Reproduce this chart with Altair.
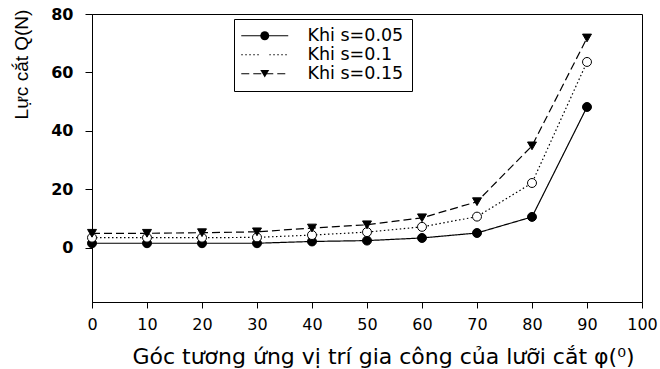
import altair as alt
import pandas as pd

angles = [0, 10, 20, 30, 40, 50, 60, 70, 80, 90]
series_names = ["Khi s=0.05", "Khi s=0.1", "Khi s=0.15"]
q_005 = [1.6, 1.6, 1.6, 1.6, 2.2, 2.5, 3.4, 5.1, 10.6, 48.2]
q_010 = [3.5, 3.5, 3.5, 3.6, 4.4, 5.4, 7.2, 10.7, 22.2, 63.6]
q_015 = [5.0, 5.0, 5.2, 5.5, 6.8, 7.9, 10.3, 15.8, 34.9, 71.8]
x_ticks = [0, 10, 20, 30, 40, 50, 60, 70, 80, 90, 100]
y_ticks = [0, 20, 40, 60, 80]

rows = []
for name, vals in zip(series_names, [q_005, q_010, q_015]):
    for a, v in zip(angles, vals):
        rows.append({"angle": a, "Q": v, "series": name, "marker": name})
df = pd.DataFrame(rows)

dash_scale = alt.Scale(domain=series_names, range=[[1, 0], [1.5, 2.5], [8, 4]])
# marker scales use the data-derived (sorted) domain so their legend stays separate
shape_scale = alt.Scale(range=["circle", "circle", "triangle-down"])
fill_scale = alt.Scale(range=["black", "white", "black"])

x_enc = alt.X(
    "angle:Q",
    scale=alt.Scale(domain=[0, 100], nice=False, zero=False),
    axis=alt.Axis(
        values=x_ticks, title="Góc tương ứng vị trí gia công của lưỡi cắt  φ(⁰)",
        titleFont="DejaVu Sans", titleFontSize=22, titleFontWeight="normal",
        titleColor="black", titleX=291, titleY=61, titleBaseline="alphabetic",
        titleAlign="center",
        labelFont="DejaVu Sans", labelFontSize=16, labelColor="black",
        labelFlush=False, tickSize=6, labelPadding=8, grid=False,
    ),
)
y_enc = alt.Y(
    "Q:Q",
    scale=alt.Scale(domain=[-18.5, 80], nice=False, zero=False),
    axis=alt.Axis(
        values=y_ticks, title="Lực cắt Q(N)",
        titleFont="Liberation Sans", titleFontSize=19, titleFontWeight="normal",
        titleColor="black", titleAngle=270, titleX=-65, titleY=50,
        titleAlign="center", titleBaseline="alphabetic",
        labelFont="DejaVu Sans", labelFontSize=16, labelFontWeight="bold",
        labelColor="black", labelFlush=False, tickSize=7, labelPadding=12, grid=False,
    ),
)

common = dict(
    title=None, orient="none", legendX=142, legendY=5, symbolSize=80,
    symbolOffset=14, labelOffset=34, labelFont="DejaVu Sans", labelFontSize=17.5,
    rowPadding=0, padding=8, labelLimit=300,
)

line_legend = alt.Legend(
    symbolType="M-5.25,0H5.25", symbolStrokeWidth=1.2, symbolStrokeColor="black",
    labelColor="black", strokeColor="black", fillColor="white", zindex=1,
    labelExpr="datum.label + ' '",
    **common,
)
point_legend = alt.Legend(
    symbolStrokeColor="black", symbolStrokeWidth=1, labelOpacity=0,
    labelExpr="' '", zindex=2,
    **common,
)

lines = alt.Chart(df).mark_line(color="black", strokeWidth=1.2).encode(
    x=x_enc, y=y_enc,
    strokeDash=alt.StrokeDash("series:N", scale=dash_scale, legend=line_legend),
)
points = alt.Chart(df).mark_point(filled=True, size=80, stroke="black", strokeWidth=1, opacity=1).encode(
    x=x_enc, y=y_enc,
    shape=alt.Shape("marker:N", scale=shape_scale, legend=point_legend),
    fill=alt.Fill("marker:N", scale=fill_scale, legend=point_legend),
)

chart = alt.layer(lines, points).properties(
    width=550, height=288,
    autosize=alt.AutoSizeParams(type="none"),
    padding={"left": 92, "top": 14, "right": 18, "bottom": 67},
    background="white",
).configure_view(
    stroke="black", strokeWidth=1
).configure_axis(
    domainColor="black", tickColor="black", domainWidth=1, tickWidth=1
)

chart.save("out.html", embed_options={"renderer": "svg", "actions": False})
